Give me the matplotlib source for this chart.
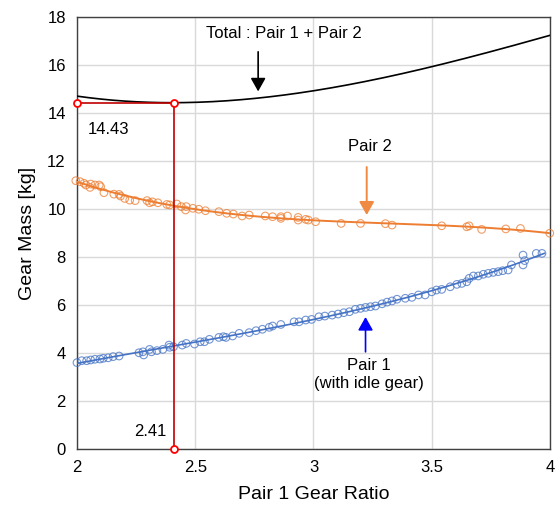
import numpy as np
import matplotlib
matplotlib.use("Agg")
import matplotlib.pyplot as plt

plt.rcParams['font.family'] = ['Liberation Sans', 'DejaVu Sans']

# ---- data ----
pair2_x = [1.995, 2.013, 2.03, 2.038, 2.055, 2.058, 2.076, 2.094, 2.10, 2.114, 2.156, 2.178,
           2.184, 2.202, 2.223, 2.246, 2.296, 2.307, 2.319, 2.342, 2.38, 2.392, 2.422, 2.441,
           2.459, 2.462, 2.49, 2.515, 2.543, 2.60, 2.633, 2.661, 2.698, 2.728, 2.796, 2.827,
           2.862, 2.862, 2.89, 2.935, 2.935, 2.967, 2.978, 3.009, 3.117, 3.199, 3.304, 3.332,
           3.542, 3.648, 3.658, 3.711, 3.813, 3.875, 3.999]
pair2_y = [11.18, 11.14, 11.07, 11.0, 10.9, 11.04, 11.0, 11.0, 10.93, 10.68, 10.62, 10.61,
           10.54, 10.44, 10.37, 10.35, 10.35, 10.26, 10.3, 10.26, 10.19, 10.17, 10.21, 10.1,
           9.96, 10.1, 10.03, 9.99, 9.93, 9.89, 9.82, 9.79, 9.71, 9.75, 9.71, 9.68,
           9.61, 9.68, 9.71, 9.65, 9.54, 9.57, 9.54, 9.47, 9.40, 9.40, 9.39, 9.33,
           9.30, 9.26, 9.30, 9.15, 9.17, 9.19, 8.99]

pair1_x = [2.0, 2.02, 2.041, 2.058, 2.076, 2.097, 2.111, 2.132, 2.153, 2.178, 2.262, 2.279,
           2.282, 2.307, 2.315, 2.338, 2.363, 2.389, 2.392, 2.408, 2.445, 2.462, 2.497, 2.521,
           2.539, 2.56, 2.60, 2.619, 2.63, 2.658, 2.686, 2.728, 2.757, 2.784, 2.813, 2.827,
           2.862, 2.918, 2.939, 2.967, 2.992, 3.023, 3.048, 3.079, 3.104, 3.128, 3.152, 3.177,
           3.199, 3.22, 3.241, 3.262, 3.29, 3.311, 3.332, 3.353, 3.388, 3.416, 3.444, 3.472,
           3.50, 3.52, 3.542, 3.578, 3.606, 3.627, 3.648, 3.658, 3.676, 3.697, 3.718, 3.739,
           3.76, 3.781, 3.80, 3.823, 3.837, 3.886, 3.886, 3.893, 3.942, 3.966]
pair1_y = [3.6, 3.68, 3.68, 3.71, 3.74, 3.75, 3.78, 3.80, 3.85, 3.875, 4.01, 4.05,
           3.92, 4.15, 4.05, 4.10, 4.15, 4.33, 4.24, 4.26, 4.33, 4.40, 4.375, 4.47,
           4.47, 4.57, 4.65, 4.68, 4.65, 4.71, 4.82, 4.85, 4.93, 4.99, 5.07, 5.125,
           5.19, 5.30, 5.30, 5.375, 5.40, 5.51, 5.54, 5.58, 5.625, 5.68, 5.72, 5.82,
           5.86, 5.90, 5.93, 5.96, 6.05, 6.12, 6.17, 6.24, 6.28, 6.32, 6.42, 6.42,
           6.55, 6.625, 6.65, 6.76, 6.86, 6.90, 6.97, 7.11, 7.21, 7.21, 7.28, 7.32,
           7.36, 7.39, 7.43, 7.46, 7.67, 8.08, 7.67, 7.85, 8.15, 8.15]

opt_ratio = 2.41
opt_mass = 14.43

x_ticks = [2, 2.5, 3, 3.5, 4]
x_ticklabels = ["2", "2.5", "3", "3.5", "4"]
y_ticks = [0, 2, 4, 6, 8, 10, 12, 14, 16, 18]

ORANGE = "#ED7D31"
BLUE = "#4472C4"
DARKRED = "#C00000"

# ---- trend lines (cubic polynomial fits like spreadsheet trendlines) ----
c1 = np.polyfit(pair1_x, pair1_y, 3)
c2 = np.polyfit(pair2_x, pair2_y, 3)
xs1 = np.linspace(2.0, max(pair1_x) + 0.01, 200)
xs2 = np.linspace(2.0, 4.0, 200)
xs_tot = np.linspace(2.0, 4.0, 200)
tot = np.polyval(c1, xs_tot) + np.polyval(c2, xs_tot)

fig = plt.figure(figsize=(5.55, 5.11), dpi=100)
ax = fig.add_axes([0.1387, 0.1213, 0.8523, 0.8454])

ax.set_xlim(2, 4)
ax.set_ylim(0, 18)
ax.set_xticks(x_ticks)
ax.set_xticklabels(x_ticklabels)
ax.set_yticks(y_ticks)
ax.grid(True, color="#D9D9D9", lw=1.0, zorder=0)
ax.set_axisbelow(True)
for s in ax.spines.values():
    s.set_color("#404040")
    s.set_linewidth(1.0)
ax.tick_params(axis='both', length=0, labelsize=12, pad=8, colors="#000000")

# scatter
ax.scatter(pair2_x, pair2_y, s=30, facecolors='none', edgecolors=ORANGE, linewidths=0.8,
           alpha=0.75, zorder=3, clip_on=False)
ax.scatter(pair1_x, pair1_y, s=30, facecolors='none', edgecolors=BLUE, linewidths=0.8,
           alpha=0.75, zorder=3, clip_on=False)

# lines
ax.plot(xs2, np.polyval(c2, xs2), color=ORANGE, lw=1.4, zorder=4)
ax.plot(xs1, np.polyval(c1, xs1), color=BLUE, lw=1.2, zorder=4)
ax.plot(xs_tot, tot, color="black", lw=1.2, zorder=4)

# optimum readout
ax.plot([2.0, opt_ratio], [opt_mass, opt_mass], color=DARKRED, lw=1.2, zorder=5, clip_on=False)
ax.plot([opt_ratio, opt_ratio], [0, opt_mass], color=DARKRED, lw=1.2, zorder=5, clip_on=False)
ax.plot([2.0, opt_ratio, opt_ratio], [opt_mass, opt_mass, 0], ls='none', marker='o',
        ms=5, mfc='white', mec='#FF0000', mew=1.3, zorder=6, clip_on=False)
ax.text(2.045, opt_mass - 1.1, f"{opt_mass:.2f}", fontsize=12, ha='left', va='center')
ax.text(opt_ratio - 0.03, 0.75, f"{opt_ratio:.2f}", fontsize=12, ha='right', va='center')

# annotations
ax.text(2.876, 17.3, "Total : Pair 1 + Pair 2", fontsize=12, ha='center', va='center')
ax.annotate("", xy=(2.766, 14.9), xytext=(2.766, 16.55),
            arrowprops=dict(arrowstyle="-|>,head_length=0.8,head_width=0.45",
                            color="black", lw=1.2, shrinkA=0, shrinkB=0))
ax.text(3.24, 12.6, "Pair 2", fontsize=12, ha='center', va='center')
ax.annotate("", xy=(3.225, 9.75), xytext=(3.225, 11.75),
            arrowprops=dict(arrowstyle="-|>,head_length=0.8,head_width=0.45",
                            color="#F08A42", lw=1.4, shrinkA=0, shrinkB=0))
ax.text(3.235, 3.1, "Pair 1\n(with idle gear)", fontsize=12, ha='center', va='center',
        linespacing=1.3)
ax.annotate("", xy=(3.22, 5.5), xytext=(3.22, 4.05),
            arrowprops=dict(arrowstyle="-|>,head_length=0.8,head_width=0.45",
                            color="#0000FF", lw=1.2, shrinkA=0, shrinkB=0))

ax.set_xlabel("Pair 1 Gear Ratio", fontsize=14, labelpad=8)
ax.set_ylabel("Gear Mass [kg]", fontsize=14, labelpad=8)

fig.savefig("out.png", dpi=100)
